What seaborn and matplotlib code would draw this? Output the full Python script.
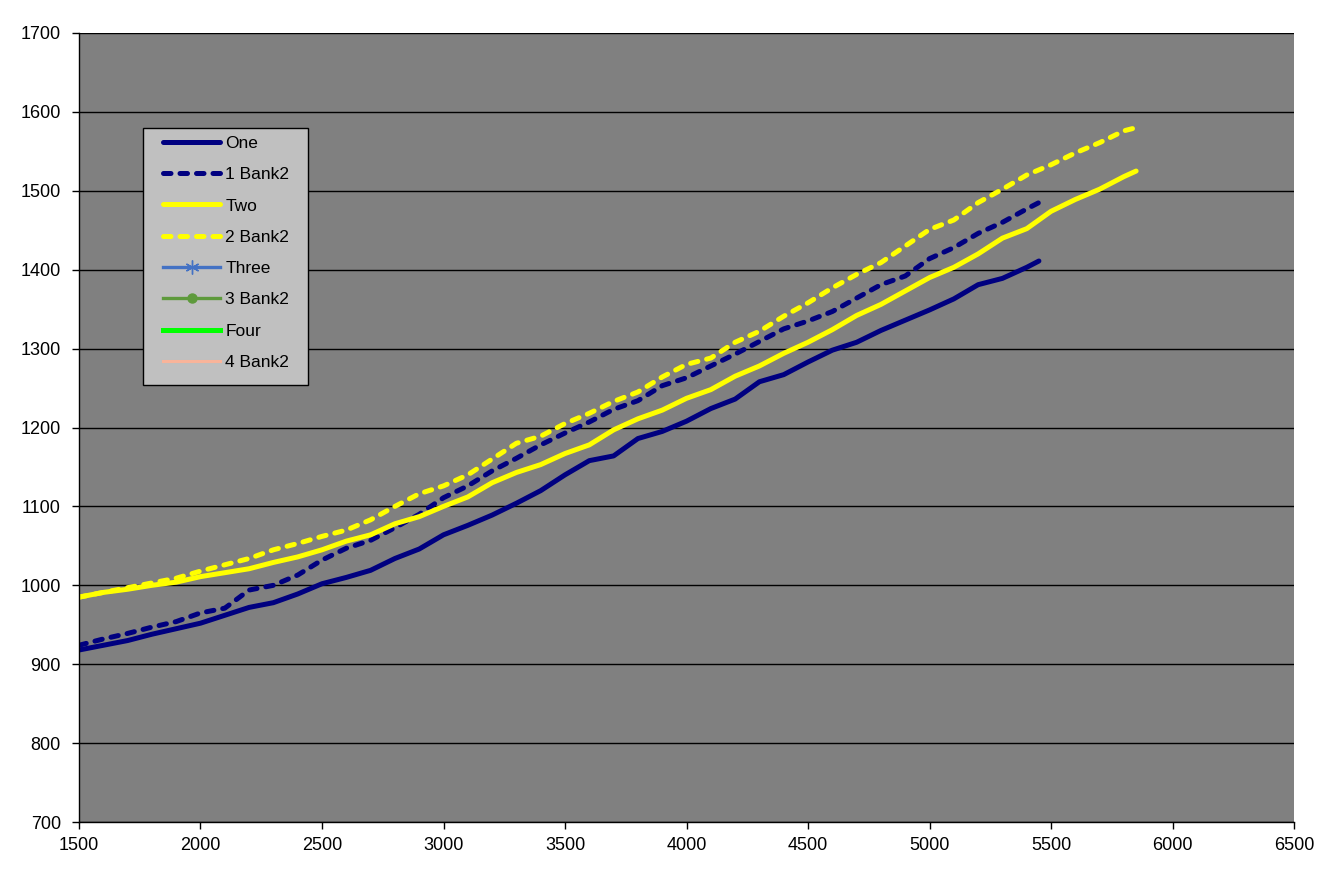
import numpy as np
import pandas as pd
import matplotlib
matplotlib.use("Agg")
import matplotlib.pyplot as plt
import seaborn as sns
from matplotlib.legend_handler import HandlerLine2D
from matplotlib.patches import Rectangle

# ---------- data ---------------------------------------------------------
x_one = [1500, 1600, 1700, 1800, 1900, 2000, 2100, 2200, 2300, 2400,
         2500, 2600, 2700, 2800, 2900, 3000, 3100, 3200, 3300, 3400,
         3500, 3600, 3700, 3800, 3900, 4000, 4100, 4200, 4300, 4400,
         4500, 4600, 4700, 4800, 4900, 5000, 5100, 5200, 5300, 5400, 5450]
y_one = [918, 924, 930, 938, 945, 952, 962, 972, 978, 989,
         1002, 1010, 1019, 1034, 1046, 1064, 1076, 1089, 1104, 1120,
         1140, 1158, 1164, 1186, 1195, 1208, 1224, 1236, 1258, 1267,
         1283, 1298, 1308, 1323, 1336, 1349, 1363, 1381, 1389, 1403, 1411]
y_one_bank2 = [924, 932, 939, 947, 954, 965, 971, 994, 1000, 1013,
               1032, 1047, 1057, 1073, 1090, 1111, 1126, 1145, 1161, 1178,
               1193, 1207, 1223, 1234, 1253, 1263, 1278, 1293, 1309, 1325,
               1335, 1347, 1364, 1381, 1392, 1414, 1428, 1446, 1460, 1477, 1485]

x_two = [1500, 1600, 1700, 1800, 1900, 2000, 2100, 2200, 2300, 2400,
         2500, 2600, 2700, 2800, 2900, 3000, 3100, 3200, 3300, 3400,
         3500, 3600, 3700, 3800, 3900, 4000, 4100, 4200, 4300, 4400,
         4500, 4600, 4700, 4800, 4900, 5000, 5100, 5200, 5300, 5400,
         5500, 5600, 5700, 5800, 5850]
y_two = [985, 991, 995, 1000, 1004, 1011, 1016, 1021, 1029, 1036,
         1045, 1056, 1064, 1078, 1087, 1100, 1112, 1130, 1143, 1153,
         1167, 1178, 1197, 1211, 1222, 1237, 1248, 1265, 1278, 1294,
         1308, 1324, 1342, 1356, 1373, 1390, 1403, 1420, 1440, 1452,
         1474, 1489, 1502, 1518, 1525]
y_two_bank2 = [985, 991, 997, 1003, 1009, 1018, 1026, 1034, 1045, 1053,
               1062, 1070, 1083, 1100, 1116, 1126, 1140, 1160, 1180, 1189,
               1205, 1218, 1233, 1245, 1264, 1280, 1288, 1308, 1322, 1341,
               1358, 1377, 1394, 1409, 1430, 1451, 1463, 1485, 1502, 1520,
               1533, 1548, 1561, 1576, 1580]

# these only show up in the legend
x_three, y_three = [], []
x_three_bank2, y_three_bank2 = [], []
x_four, y_four = [], []
x_four_bank2, y_four_bank2 = [], []

x_ticks = [1500, 2000, 2500, 3000, 3500, 4000, 4500, 5000, 5500, 6000, 6500]
y_ticks = [700, 800, 900, 1000, 1100, 1200, 1300, 1400, 1500, 1600, 1700]

plt.rcParams["font.family"] = ["Liberation Sans", "DejaVu Sans"]

df = pd.concat([
    pd.DataFrame({"x": x_one, "y": y_one, "series": "One"}),
    pd.DataFrame({"x": x_one, "y": y_one_bank2, "series": "1 Bank2"}),
    pd.DataFrame({"x": x_two, "y": y_two, "series": "Two"}),
    pd.DataFrame({"x": x_two, "y": y_two_bank2, "series": "2 Bank2"}),
])

dash = (0, (1.5, 1.8))
styles = {
    "One": dict(color="#000080", linestyle="-"),
    "1 Bank2": dict(color="#000080", linestyle=dash),
    "Two": dict(color="#FFFF00", linestyle="-"),
    "2 Bank2": dict(color="#FFFF00", linestyle=dash),
}

fig, ax = plt.subplots(figsize=(13.41, 8.84), dpi=100)
fig.subplots_adjust(left=0.0589, right=0.965, top=0.9627, bottom=0.0701)
ax.set_facecolor("#808080")

handles = {}
for name, st in styles.items():
    sub = df[df["series"] == name]
    sns.lineplot(data=sub, x="x", y="y", ax=ax, lw=3.6, estimator=None,
                 sort=False, solid_capstyle="round", dash_capstyle="round",
                 solid_joinstyle="round", label=name, **st)
    handles[name] = ax.get_lines()[-1]

h3, = ax.plot(x_three, y_three, color="#4472C4", lw=2.4, marker=(6, 2, 0),
              markersize=10, markeredgewidth=1.0, label="Three")
h3b, = ax.plot(x_three_bank2, y_three_bank2, color="#5E9A3C", lw=2.4,
               marker="o", markersize=6.5, label="3 Bank2")
h4, = ax.plot(x_four, y_four, color="#00FF00", lw=3.6, label="Four")
h4b, = ax.plot(x_four_bank2, y_four_bank2, color="#F9B49A", lw=2.2,
               label="4 Bank2")

# legend box (Excel style: silver fill, black border)
ax.add_patch(Rectangle((0.0527, 0.5539), 0.1358, 0.3257, transform=ax.transAxes,
                       facecolor="#C0C0C0", edgecolor="black", lw=1.0,
                       zorder=4.5))

order = [handles["One"], handles["1 Bank2"], handles["Two"], handles["2 Bank2"],
         h3, h3b, h4, h4b]
leg = ax.legend(handles=order, labels=[h.get_label() for h in order],
                loc="upper left", bbox_to_anchor=(0.0527, 0.8796),
                borderaxespad=0, fontsize=12.5, frameon=False,
                handlelength=4.0, handletextpad=0.3, labelspacing=0.93,
                borderpad=0.45,
                handler_map={h: HandlerLine2D(xpad=0.72) for h in order})

ax.set_xlim(1500, 6500)
ax.set_ylim(700, 1700)
ax.set_xticks(x_ticks)
ax.set_yticks(y_ticks)
ax.set_xlabel("")
ax.set_ylabel("")
ax.grid(axis="y", color="black", lw=1.0)
ax.grid(axis="x", visible=False)
ax.set_axisbelow(True)
for side in ["left", "bottom"]:
    ax.spines[side].set_color("black")
    ax.spines[side].set_linewidth(1.0)
ax.spines["right"].set_visible(False)
ax.spines["top"].set_visible(False)
ax.tick_params(axis="both", direction="out", length=5, width=1,
               colors="black", labelsize=13)
ax.tick_params(axis="y", pad=8)
ax.tick_params(axis="x", pad=6)

fig.savefig("out.png", dpi=100, facecolor="white")
